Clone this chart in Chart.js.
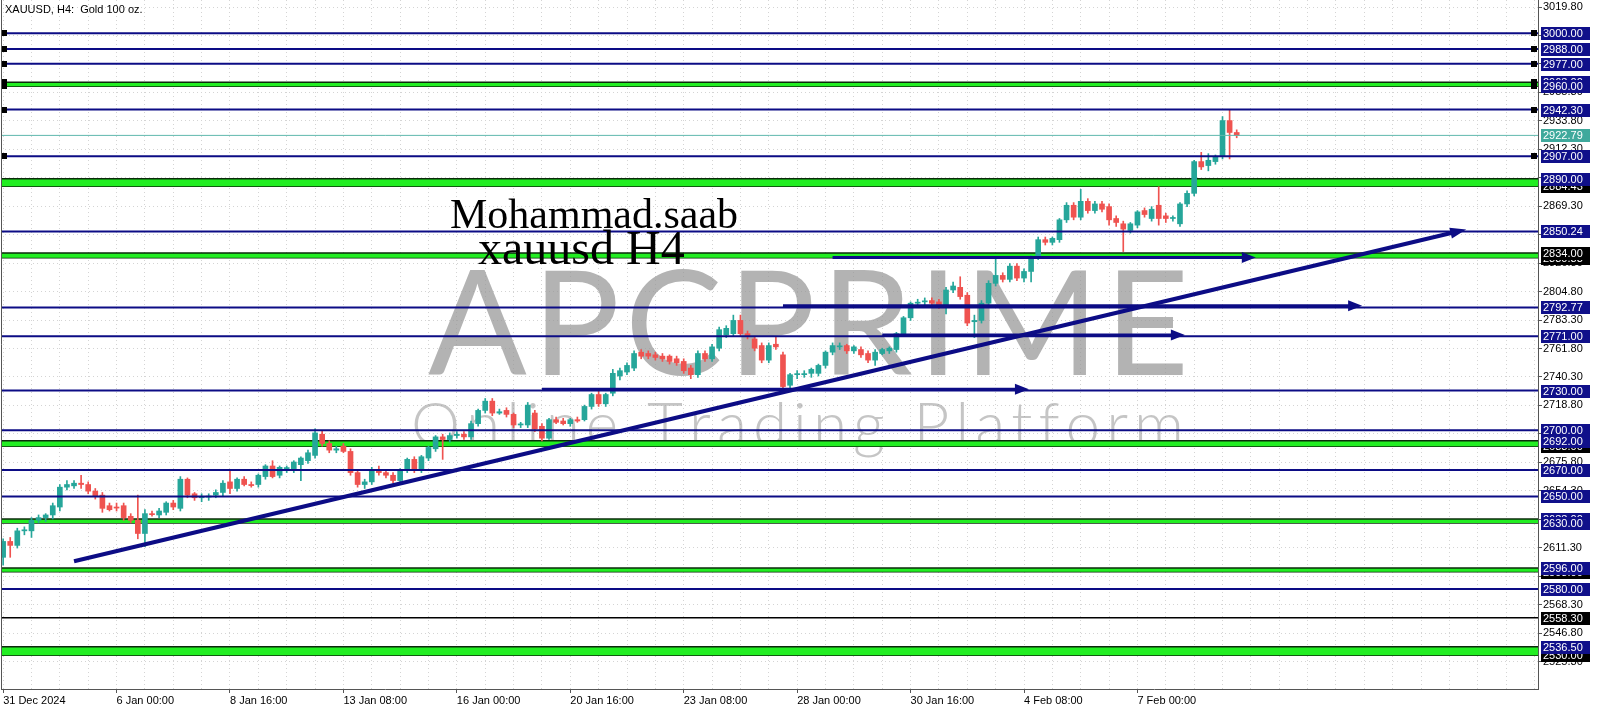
<!DOCTYPE html>
<html><head><meta charset="utf-8">
<script src="https://cdn.jsdelivr.net/npm/chart.js@4.4.1/dist/chart.umd.min.js"></script>
<style>html,body{margin:0;padding:0;background:#fff;overflow:hidden}canvas{display:block}</style>
</head><body>
<canvas id="c" width="1600" height="711"></canvas>
<script>
// ---- candle data (H4 bars) ----
const opens = [2604,2616,2613,2624,2624,2632,2634,2636,2642,2657,2658,2660,2659,2654,2651,2643,2642,2643,2635,2632,
2622,2637,2636,2638,2645,2641,2663,2652,2649,2649.5,2651,2653,2661,2656,2663,2659,2659,2665,2673,2666,
2671,2670,2674,2677,2681,2697,2690,2685,2688,2684,2668,2659,2661,2670,2668,2666,2662,2670,2678,2670,
2679,2686,2695,2693,2696,2697,2695,2705,2715,2722,2713,2715,2712,2704,2704,2713,2703,2694,2708,2707,
2705,2708,2708,2718,2727,2720,2728,2741,2744,2747,2759,2758,2757,2756,2756,2754,2752,2747,2742,2758,
2754,2762,2772,2773,2783,2773,2769,2764,2753,2765,2757,2734,2742,2742,2743,2743,2749,2759,2763,2764,
2760,2761,2758,2753,2758,2760,2761,2773,2785,2796,2797,2798,2797,2793,2806,2808,2802,2782,2783,2796,
2811,2817,2814,2824,2815,2820,2831,2844,2842,2844,2859,2870,2861,2873,2866,2871,2869,2860,2856,2851,
2855,2866,2860,2870,2862,2860,2856,2871,2879,2903,2900,2903,2907,2934,2925];
const highs = [2618,2619,2626,2627,2634,2636,2637,2645,2659,2662,2662,2666,2661,2656,2653,2645,2645,2645,2637,2651,
2640,2639,2641,2646,2647,2665,2664,2653,2652,2652,2655,2662,2670,2664,2665,2661,2667,2674,2677,2673,
2673,2677,2680,2685,2701,2700,2692,2688,2690,2686,2670,2663,2672,2673,2670,2668,2671,2679,2680,2681,
2688,2696,2697,2698,2699,2699,2707,2716,2724,2724,2716,2717,2713,2706,2721,2715,2705,2709,2710,2709,
2709,2710,2719,2728,2730,2728,2746,2747,2751,2760,2761,2760,2759,2758,2757,2756,2754,2749,2760,2760,
2765,2778,2779,2787,2787,2775,2771,2766,2766,2771,2759,2743,2745,2745,2747,2750,2760,2766,2766,2765,
2764,2763,2760,2761,2762,2763,2774,2786,2797,2799,2800,2800,2799,2808,2812,2816,2804,2787,2798,2813,
2830,2819,2826,2826,2822,2832,2846,2846,2846,2860,2872,2872,2882,2875,2873,2873,2871,2862,2858,2857,
2866,2868,2869,2884,2864,2862,2872,2881,2904,2910,2909,2908,2937,2942,2927];
const lows = [2598,2604,2611,2621,2619,2630,2631,2633,2639,2655,2656,2656,2652,2648,2638,2639,2639,2632,2630,2618,
2612,2635,2634,2636,2640,2639,2649,2647,2646,2647,2649,2650,2652,2654,2658,2657,2657,2663,2664,2664,
2668,2668,2662,2675,2679,2688,2683,2683,2683,2666,2657,2656,2659,2666,2664,2660,2660,2668,2668,2668,
2677,2684,2678,2691,2694,2693,2693,2703,2713,2711,2712,2710,2702,2702,2702,2699,2692,2693,2705,2704,
2703,2706,2707,2716,2718,2718,2726,2738,2742,2745,2754,2754,2753,2752,2750,2749,2743,2739,2740,2752,
2752,2760,2770,2771,2771,2769,2760,2751,2751,2761,2731,2730,2739,2740,2740,2741,2747,2757,2761,2758,
2758,2755,2751,2749,2757,2758,2759,2771,2783,2793,2794,2794,2792,2788,2804,2799,2779,2770,2781,2794,
2809,2812,2812,2813,2812,2812,2829,2840,2840,2842,2857,2859,2859,2864,2864,2865,2855,2854,2835,2849,
2853,2861,2858,2855,2857,2858,2854,2869,2877,2897,2896,2901,2905,2905,2921];
const closes = [2616,2613,2624,2624.8,2632,2634,2636,2643,2657,2659,2660,2659,2654,2650,2641,2640,2641.2,2634,2632,2622,
2637,2636.2,2639,2645,2642,2663,2651,2649,2649.8,2650.3,2653,2660,2656,2663,2659,2658.2,2666,2673,2665,2672,
2671.8,2676,2679,2683,2698,2690,2685,2686,2684,2668,2659,2661,2670,2668,2666,2662,2670,2678,2670,2680,
2687,2695,2693,2696,2697,2695,2705,2715,2722,2713,2714,2712,2704,2704.8,2719,2701,2694,2708,2706,2705,
2708,2707,2718,2727,2720,2727,2743,2745,2749,2758,2756,2756,2755,2754,2752,2751,2745,2742,2758,2754,
2763,2776,2777,2783,2773,2771,2762,2753,2764,2763,2733,2742,2742.8,2742.8,2746,2749,2759,2764,2763.8,2760,
2763,2757,2753,2759,2761,2762,2773,2785,2796,2796.8,2797.8,2796,2794,2806,2809,2801,2781,2783,2796,2811,
2817,2814,2824,2815,2820,2830,2844,2842,2845,2859,2870,2861,2873,2866,2871,2867,2859,2857,2852,2856,
2865,2863,2867,2860,2860,2860.8,2871,2879,2903,2899,2904,2907,2934,2925,2922.79];

// ---- axis labels ----
const timeLabels = ['31 Dec 2024','6 Jan 00:00','8 Jan 16:00','13 Jan 08:00','16 Jan 00:00','20 Jan 16:00','23 Jan 08:00','28 Jan 00:00','30 Jan 16:00','4 Feb 08:00','7 Feb 00:00'];
const barsPerLabel = 16;
const gridEveryBars = 4;
const priceTicks = [3019.80,2998.30,2976.80,2955.30,2933.80,2912.30,2890.80,2869.30,2847.80,2826.30,2804.80,2783.30,
2761.80,2740.30,2718.80,2697.30,2675.80,2654.30,2632.80,2611.30,2589.80,2568.30,2546.80,2525.30];

// ---- drawn objects ----
const navyLevels = [3000, 2988, 2977, 2942.3, 2907, 2850.24, 2792.77, 2771, 2730, 2700, 2670, 2650, 2580];
const blackLevels = [2558.3];
const bandTops =    [2963, 2890, 2834, 2692, 2633, 2596, 2536.5];
const bandBottoms = [2960, 2884.43, 2830.33, 2688, 2630, 2593, 2530];
const selectedLevels = [3000, 2988, 2977, 2963, 2960, 2942.3, 2907];
const currentPrice = 2922.79;
const trendFrom = [10, 2601];
const trendTo = [205, 2850];
const arrowStartBar = [117, 110, 124, 76];
const arrowEndBar =   [175, 190, 165, 143];
const arrowPrice =    [2830.6, 2794, 2772, 2731];
const navyTags = [2963, 3000, 2988, 2977, 2960, 2942.3, 2907, 2890, 2850.24, 2792.77, 2771, 2730, 2700, 2692, 2670, 2650, 2633, 2630, 2596, 2580, 2536.5];
const blackTags = [2884.43, 2830.33, 2834, 2688, 2593, 2558.3, 2530];

const xMin = -0.3, xMax = 216.5, yMin = 2504.5, yMax = 3025.1;
const UP = '#26a69a', DOWN = '#ef5350', NAVY = '#0c0c85', FONT = '11px "Liberation Sans", Arial, sans-serif';

const candleColors = closes.map((c, i) => c >= opens[i] ? UP : DOWN);
const datasets = [];
bandTops.forEach((t, i) => {
  datasets.push({type:'line', data:[{x:xMin,y:t},{x:xMax,y:t}], borderColor:'#0b2a0b', borderWidth:1.5, pointRadius:0, fill:'+1', backgroundColor:'#22ee22', order:20});
  datasets.push({type:'line', data:[{x:xMin,y:bandBottoms[i]},{x:xMax,y:bandBottoms[i]}], borderColor:'#0b2a0b', borderWidth:1.5, pointRadius:0, fill:false, order:20});
});
datasets.push({type:'bar', data: lows.map((l,i)=>({x:i, y:[l, highs[i]]})), backgroundColor:candleColors, barThickness:1, grouped:false, order:10});
datasets.push({type:'bar', data: opens.map((o,i)=>({x:i, y:[o, closes[i]]})), backgroundColor:candleColors, barThickness:5, minBarLength:1, grouped:false, order:9});
navyLevels.forEach(v => datasets.push({type:'line', data:[{x:xMin,y:v},{x:xMax,y:v}], borderColor:NAVY, borderWidth:2, pointRadius:0, order:5}));
blackLevels.forEach(v => datasets.push({type:'line', data:[{x:xMin,y:v},{x:xMax,y:v}], borderColor:'#000', borderWidth:1.5, pointRadius:0, order:5}));
datasets.push({type:'line', data:[{x:xMin,y:currentPrice},{x:xMax,y:currentPrice}], borderColor:'#5fb8ad', borderWidth:1, pointRadius:0, order:6});
arrowPrice.forEach((p,i) => datasets.push({type:'line', data:[{x:arrowStartBar[i],y:p},{x:arrowEndBar[i],y:p}], borderColor:NAVY, borderWidth:3, pointRadius:0, order:2}));
datasets.push({type:'line', data:[{x:trendFrom[0],y:trendFrom[1]},{x:trendTo[0],y:trendTo[1]}], borderColor:NAVY, borderWidth:4, pointRadius:0, order:1});

function drawSpaced(ctx, text, left, right, baseline) {
  const ws = [...text].map(ch => ctx.measureText(ch).width);
  const total = ws.reduce((a,b)=>a+b,0);
  const gap = (right - left - total) / (text.length - 1);
  let x = left;
  [...text].forEach((ch,i) => { ctx.fillText(ch, x, baseline); x += ws[i] + gap; });
}
function arrowHead(ctx, x, y, ang, len, wid) {
  ctx.save(); ctx.translate(x,y); ctx.rotate(ang);
  ctx.beginPath(); ctx.moveTo(0,0); ctx.lineTo(-len, -wid/2); ctx.lineTo(-len, wid/2); ctx.closePath();
  ctx.fillStyle = NAVY; ctx.fill(); ctx.restore();
}

const overlay = {
  id:'overlay',
  beforeDatasetsDraw(chart) {
    const ctx = chart.ctx;
    ctx.save();
    ctx.textBaseline = 'alphabetic'; ctx.textAlign = 'left';
    ctx.fillStyle = 'rgba(150,150,150,0.72)';
    ctx.font = '400 146px Lato, "Open Sans", sans-serif';
    drawSpaced(ctx, 'APCPRIME', 428, 1189, 375);
    ctx.fillStyle = 'rgba(150,150,150,0.55)';
    ctx.font = '300 62px Lato, "Open Sans", sans-serif';
    drawSpaced(ctx, 'Online Trading Platform', 411, 1184, 446);
    ctx.restore();
  },
  afterDatasetsDraw(chart) {
    const ctx = chart.ctx, xs = chart.scales.x, ys = chart.scales.y, ca = chart.chartArea;
    ctx.save();
    arrowPrice.forEach((p,i) => arrowHead(ctx, xs.getPixelForValue(arrowEndBar[i]) + 12, ys.getPixelForValue(p), 0, 14, 11));
    const x0 = xs.getPixelForValue(trendFrom[0]), y0 = ys.getPixelForValue(trendFrom[1]);
    const x1 = xs.getPixelForValue(trendTo[0]), y1 = ys.getPixelForValue(trendTo[1]);
    const ang = Math.atan2(y1-y0, x1-x0);
    arrowHead(ctx, x1 + 10*Math.cos(ang), y1 + 10*Math.sin(ang), ang, 16, 11);
    ctx.fillStyle = '#000';
    selectedLevels.forEach(v => { const y = Math.round(ys.getPixelForValue(v)); ctx.fillRect(ca.left, y-3, 6, 6); ctx.fillRect(ca.right-7, y-3, 6, 6); });
    ctx.fillStyle = '#000'; ctx.textAlign = 'left'; ctx.textBaseline = 'alphabetic';
    ctx.font = '42px "Liberation Serif", "Times New Roman", serif';
    ctx.fillText('Mohammad.saab', 450, 228);
    ctx.font = '48px "Liberation Serif", "Times New Roman", serif';
    ctx.fillText('xauusd H4', 478, 264);
    ctx.restore();
  },
  afterDraw(chart) {
    const ctx = chart.ctx, ys = chart.scales.y, ca = chart.chartArea;
    ctx.save();
    ctx.strokeStyle = '#555'; ctx.lineWidth = 1;
    ctx.beginPath(); ctx.moveTo(ca.left+0.5, 0); ctx.lineTo(ca.left+0.5, ca.bottom); ctx.stroke();
    ctx.font = FONT; ctx.fillStyle = '#000'; ctx.textBaseline = 'middle'; ctx.textAlign = 'left';
    ctx.fillText('XAUUSD, H4:  Gold 100 oz.', 5, 10);
    const tag = (v, bg) => {
      const y = Math.round(ys.getPixelForValue(v));
      ctx.fillStyle = bg; ctx.fillRect(ca.right + 3, y - 6, 49, 13);
      ctx.fillStyle = '#fff'; ctx.fillText(v.toFixed(2), ca.right + 5, y + 1);
    };
    blackTags.forEach(v => tag(v, '#000'));
    navyTags.forEach(v => tag(v, '#10108a'));
    tag(currentPrice, '#3fa99c');
    ctx.restore();
  }
};

new Chart(document.getElementById('c'), {
  type:'bar',
  data:{datasets},
  options:{
    responsive:false, animation:false, devicePixelRatio:1,
    layout:{padding:{left:1, top:0, right:0, bottom:0}},
    plugins:{legend:{display:false}, tooltip:{enabled:false}},
    scales:{
      x:{type:'linear', min:xMin, max:xMax, offset:false,
        afterBuildTicks: s => { const t=[]; for (let v=0; v<=xMax; v+=gridEveryBars) t.push({value:v}); s.ticks = t; },
        afterFit: s => { s.height = 22; s.paddingLeft = 0; s.paddingRight = 0; },
        grid:{offset:false, color:'#d4d4d4', tickLength:4, tickColor: c => (c.tick && c.tick.value % barsPerLabel === 0 && c.tick.value/barsPerLabel < timeLabels.length) ? '#555' : 'rgba(0,0,0,0)'},
        border:{display:true, color:'#555', dash:[1,3]},
        ticks:{autoSkip:false, maxRotation:0, minRotation:0, align:'start', padding:1, color:'#000', font:{family:'"Liberation Sans", Arial', size:11},
          callback: v => (v % barsPerLabel === 0 && v/barsPerLabel < timeLabels.length) ? timeLabels[v/barsPerLabel] : ''}
      },
      y:{type:'linear', position:'right', min:yMin, max:yMax,
        afterBuildTicks: s => { s.ticks = priceTicks.map(v => ({value:v})); },
        afterFit: s => { s.width = 62; s.paddingTop = 0; s.paddingBottom = 0; },
        grid:{color:'#d4d4d4', tickLength:4, tickColor:'#555'},
        border:{display:true, color:'#555', dash:[1,3]},
        ticks:{padding:1, color:'#000', font:{family:'"Liberation Sans", Arial', size:11}, callback: v => Number(v).toFixed(2)}
      }
    }
  },
  plugins:[overlay]
});
</script>
</body></html>
